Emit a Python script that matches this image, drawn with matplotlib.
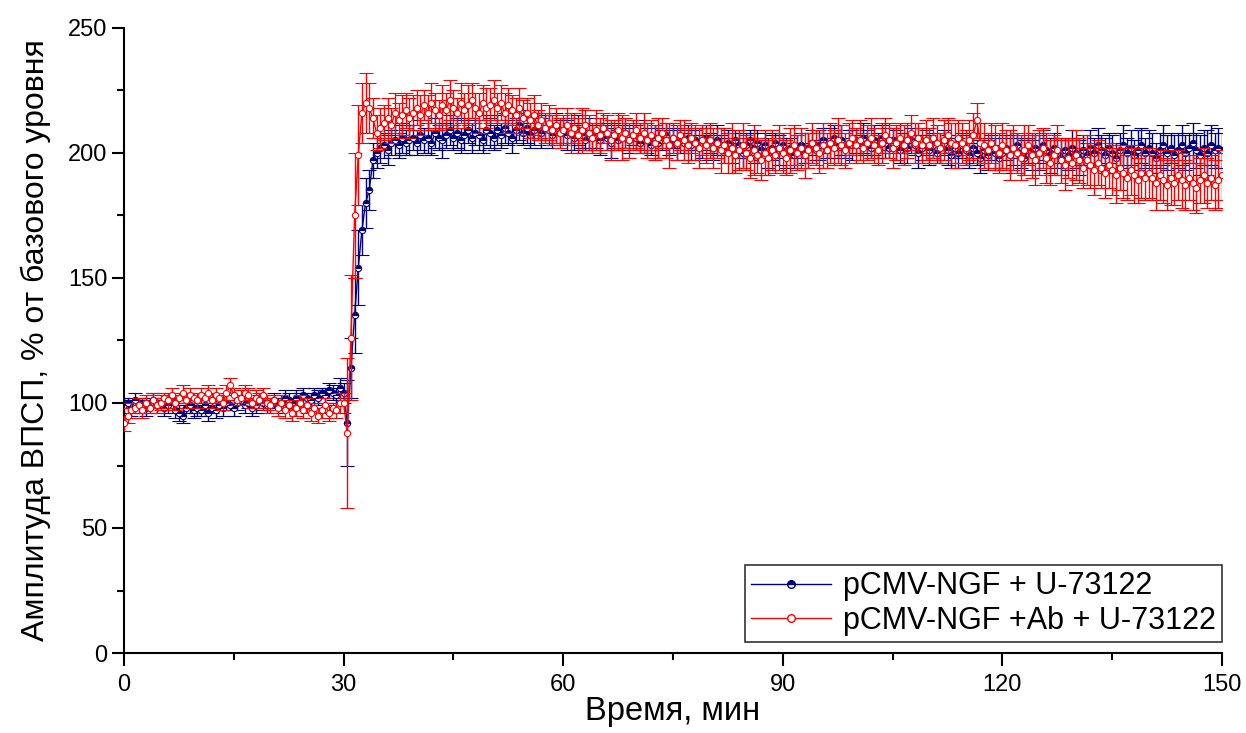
import numpy as np
import matplotlib
matplotlib.use("Agg")
import matplotlib.pyplot as plt
from matplotlib.ticker import MultipleLocator
from matplotlib.lines import Line2D

plt.rcParams['font.family'] = ['Liberation Sans', 'DejaVu Sans']

# time points (min), 0.5-min sampling
time_min = np.arange(0, 150.01, 0.5)

blue_mean = [
    99,100,98,101,100,99,98,100,101,99, 100,98,99,101,97,96,95,98,99,97,
    98,97,99,96,98,97,99,98,100,99, 98,100,101,99,100,98,99,101,100,99,
    100,101,99,100,102,101,100,102,101,103, 102,101,103,102,104,103,105,104,103,106,
    104,92,114,135,154,169,180,185,197,200, 202,203,201,204,205,203,206,204,205,206,
    204,207,205,206,204,208,206,205,207,209, 206,208,205,207,209,206,208,207,205,209,
    208,206,209,207,210,208,206,209,211,208, 210,207,209,211,208,210,209,207,210,208,
    209,207,208,206,209,207,205,208,206,207, 205,208,206,204,207,205,206,208,205,207,
    206,204,207,205,203,206,204,205,207,204, 206,203,205,204,206,203,205,202,204,206,
    204,202,205,203,201,204,202,205,203,200, 203,205,202,204,201,203,200,202,204,201,
    203,200,202,199,201,203,200,202,204,201, 203,205,202,204,206,203,205,202,204,203,
    205,203,206,204,202,205,203,206,204,202, 205,203,201,204,202,205,203,200,202,204,
    201,203,200,202,204,201,199,202,200,203, 201,199,202,200,198,201,199,202,200,198,
    200,202,199,201,203,200,198,201,199,202, 200,203,201,199,202,200,198,201,199,202,
    200,198,201,199,202,200,203,201,199,202, 200,198,201,203,200,202,199,201,203,200,
    202,200,198,201,203,200,202,199,201,203, 200,202,204,201,199,202,200,203,201,202,
    201,
]
blue_err = [
    3,2,3,3,2,3,3,2,3,3, 2,3,3,2,3,3,3,2,3,3,
    3,2,3,3,2,3,2,3,3,2, 3,3,2,3,2,3,3,2,3,3,
    2,3,3,2,3,3,2,3,3,3, 2,3,3,3,2,3,3,3,3,4,
    4,17,12,15,15,10,10,8,7,6, 6,5,6,5,6,5,6,5,6,5,
    5,6,5,6,5,6,5,7,5,6, 5,6,5,6,5,6,5,6,5,6,
    6,5,6,5,6,5,6,5,6,5, 6,5,6,5,6,5,6,5,6,5,
    5,6,4,5,6,5,4,6,5,5, 6,4,5,6,5,4,5,6,5,4,
    5,4,6,5,4,5,6,4,5,5, 4,6,5,4,5,6,4,5,6,5,
    4,5,6,4,5,5,6,4,5,6, 5,4,6,5,4,5,6,5,4,6,
    5,6,4,5,6,5,4,6,5,4, 6,5,4,6,5,5,6,4,5,6,
    5,4,6,5,4,6,5,5,6,4, 5,6,5,4,6,5,4,6,5,5,
    6,5,4,6,5,6,5,4,6,5, 6,5,6,5,6,5,6,5,6,5,
    6,5,7,6,5,6,7,5,6,6, 7,6,5,7,6,6,7,5,6,7,
    6,7,6,5,7,6,7,6,7,6, 7,6,7,8,6,7,6,8,7,6,
    7,8,6,7,8,7,6,8,7,8, 7,6,8,7,8,7,9,8,7,8,
    7,
]
red_mean = [
    92,95,97,98,99,97,100,98,101,99, 100,102,101,103,100,102,104,101,103,102,
    101,103,102,104,101,103,102,100,104,107, 103,101,102,104,103,100,102,101,103,100,
    99,101,98,100,97,99,96,98,100,97, 99,96,98,95,97,99,96,98,97,100,
    100,88,126,175,199,216,220,218,214,208, 210,212,214,211,216,213,215,217,214,216,
    218,215,219,216,220,217,215,219,217,221, 218,216,220,217,219,221,218,216,220,218,
    219,221,218,220,216,219,217,215,218,214, 216,213,215,211,213,210,212,209,211,208,
    209,211,208,210,207,209,211,208,206,209, 207,210,208,205,207,209,206,208,205,207,
    209,206,208,205,207,204,206,208,205,203, 206,204,207,205,203,206,204,202,205,203,
    205,202,204,201,203,200,202,199,201,203, 200,198,201,199,197,200,198,201,199,202,
    200,198,201,203,200,202,199,201,204,202, 200,203,201,204,202,205,203,201,204,206,
    203,205,202,204,206,203,201,204,207,205, 202,204,206,203,205,208,204,206,203,205,
    203,206,204,202,205,207,204,203,206,204, 202,205,207,213,204,203,201,204,202,200,
    203,201,199,202,200,198,201,203,199,197, 200,202,198,196,199,201,197,195,198,196,
    199,197,194,197,195,193,196,194,192,195, 193,191,194,192,190,193,191,189,192,190,
    192,190,188,191,189,187,190,188,191,189, 187,190,188,186,189,191,188,190,187,189,
    191,
]
red_err = [
    3,3,3,2,3,3,3,2,3,3, 3,2,3,3,3,2,3,3,3,2,
    3,3,2,3,3,3,2,3,3,3, 3,2,3,3,3,2,3,3,3,3,
    3,2,3,3,3,2,3,3,3,3, 3,3,2,3,3,3,3,2,3,4,
    4,30,25,25,20,12,12,10,8,7, 8,7,8,7,8,7,8,7,8,7,
    7,8,6,7,8,7,6,8,7,8, 7,6,8,7,8,7,6,8,7,8,
    7,8,6,7,8,7,6,7,8,7, 6,7,8,6,7,6,7,6,7,6,
    6,7,8,6,7,9,6,7,6,8, 7,6,7,8,6,7,9,6,7,6,
    7,6,8,7,6,7,8,6,7,9, 6,7,6,8,7,6,7,8,6,7,
    7,8,6,9,7,8,10,7,8,9, 7,8,10,7,8,9,7,8,7,9,
    8,7,9,8,7,8,9,7,8,7, 8,9,7,8,7,9,8,7,8,7,
    7,8,6,7,8,7,6,8,7,7, 8,7,6,8,7,7,8,6,7,8,
    7,8,7,6,8,7,8,9,7,8, 7,8,9,7,8,9,7,8,9,8,
    9,8,10,9,8,9,10,8,9,10, 9,8,10,9,8,10,9,10,8,9,
    10,9,8,10,9,10,9,8,10,9, 10,11,9,10,9,10,11,9,10,9,
    10,9,11,10,9,10,11,9,10,11, 10,9,11,10,9,11,10,9,10,11,
    10,
]

series_labels = ["pCMV-NGF + U-73122", "pCMV-NGF +Ab + U-73122"]
x_label = "Время, мин"
y_label = "Амплитуда ВПСП, % от базового уровня"

W, H = 1246, 733
fig = plt.figure(figsize=(W / 100, H / 100), dpi=100)
ax = fig.add_axes([124 / W, 1 - 653 / H, (1222 - 124) / W, (653 - 28) / H])

navy = "#00007f"
red = "#ff0000"

ax.errorbar(time_min, blue_mean, yerr=blue_err, color=navy, lw=1.0,
            elinewidth=1.0, capsize=5, capthick=1.0, marker='o', ms=4.5,
            fillstyle='top', markerfacecolor=navy, markerfacecoloralt='white',
            markeredgecolor=navy, markeredgewidth=0.8, label=series_labels[0], zorder=2)
ax.errorbar(time_min, red_mean, yerr=red_err, color=red, lw=1.0,
            elinewidth=1.0, capsize=5, capthick=1.0, marker='o', ms=4.5,
            markerfacecolor='white', markeredgecolor=red, markeredgewidth=0.8,
            label=series_labels[1], zorder=3)

ax.set_xlim(0, 150)
ax.set_ylim(0, 250)
ax.xaxis.set_major_locator(MultipleLocator(30))
ax.xaxis.set_minor_locator(MultipleLocator(15))
ax.yaxis.set_major_locator(MultipleLocator(50))
ax.yaxis.set_minor_locator(MultipleLocator(25))
ax.tick_params(which='major', direction='out', length=9, width=1.5, labelsize=17)
ax.tick_params(axis='x', which='major', pad=6)
ax.tick_params(axis='y', which='major', pad=3)
ax.tick_params(which='minor', direction='out', length=5, width=1.5)
ax.spines['top'].set_visible(False)
ax.spines['right'].set_visible(False)
ax.spines['left'].set_linewidth(1.5)
ax.spines['bottom'].set_linewidth(1.5)

ax.set_xlabel(x_label, fontsize=23.5, labelpad=0)
ax.set_ylabel(y_label, fontsize=23, labelpad=12)

h1 = Line2D([], [], color=navy, lw=1.0, marker='o', ms=5.5, fillstyle='top',
            markerfacecolor=navy, markerfacecoloralt='white', markeredgecolor=navy)
h2 = Line2D([], [], color=red, lw=1.0, marker='o', ms=5.5,
            markerfacecolor='white', markeredgecolor=red)
leg = ax.legend([h1, h2], series_labels, loc='lower right', fontsize=22,
                frameon=True, fancybox=False, edgecolor='black', handlelength=2.6,
                borderaxespad=0, borderpad=0.2, labelspacing=0.15, handletextpad=0.4,
                bbox_to_anchor=(1.0, 11 / 625))
leg.get_frame().set_linewidth(1.2)

fig.savefig("out.png", dpi=100)
